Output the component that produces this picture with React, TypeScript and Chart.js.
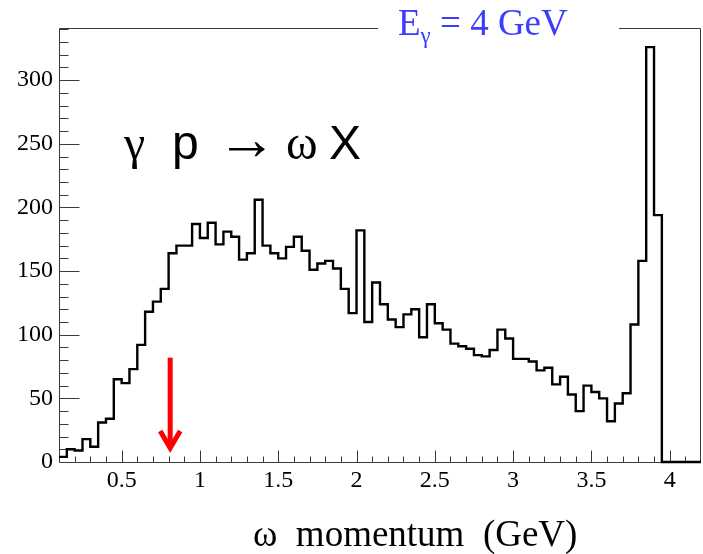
import React, { useEffect, useRef } from "react";
import { Chart, registerables } from "chart.js";

Chart.register(...registerables);

// Binning of the omega momentum histogram (GeV)
const BIN_START = 0.1;
const BIN_WIDTH = 0.05;
const X_MIN = 0.1;
const X_MAX = 4.2;
const Y_MAX = 341;

// Entries per 50 MeV bin, starting at 0.10 GeV
const counts = [
  4, 10, 9, 18, 12, 31,
  34, 65, 62, 73, 92, 118,
  126, 136, 164, 170, 170, 187,
  176, 188, 171, 181, 177, 159,
  164, 206, 170, 164, 160, 169,
  177, 166, 151, 156, 158, 152,
  136, 117, 182, 110, 141, 124,
  112, 106, 116, 120, 98, 124,
  109, 104, 93, 91, 89, 84,
  83, 88, 104, 97, 81, 81,
  79, 72, 74, 61, 67, 53,
  40, 60, 55, 50, 32, 46,
  54, 108, 158, 326, 194, 0,
  0, 0, 0, 0,
];

// Red marker arrow: momentum position and vertical extent (entries)
const arrowAt = 0.81;
const arrowFrom = 82;
const arrowTo = 11;

const SERIF = '"Liberation Serif", "Times New Roman", serif';
const SANS = '"Liberation Sans", Arial, sans-serif';

const framePlugin = {
  id: "rootFrame",
  beforeDatasetsDraw(chart: any) {
    const { ctx, chartArea: a, scales } = chart;
    const x = scales.x;
    const y = scales.y;
    const L = Math.round(a.left) + 0.5;
    const R = Math.round(a.right) - 0.5;
    const T = Math.round(a.top) + 0.5;
    const B = Math.round(a.bottom) + 0.5;
    ctx.save();
    ctx.strokeStyle = "#3a3a3a";
    ctx.lineWidth = 1;
    ctx.beginPath();
    ctx.moveTo(L, T);
    ctx.lineTo(R, T);
    ctx.lineTo(R, B);
    ctx.lineTo(L, B);
    ctx.closePath();
    // inner ticks on the x axis: major every 0.5, minor every 0.1
    for (let k = 1; k <= 42; k++) {
      const v = k / 10;
      if (v <= X_MIN + 1e-9 || v >= X_MAX - 1e-9) continue;
      const px = Math.round(x.getPixelForValue(v)) + 0.5;
      const len = k % 5 === 0 ? 12 : 6;
      ctx.moveTo(px, B);
      ctx.lineTo(px, B - len);
    }
    // inner ticks on the y axis: major every 50, minor every 10
    for (let v = 10; v < Y_MAX; v += 10) {
      const py = Math.round(y.getPixelForValue(v)) + 0.5;
      const len = v % 50 === 0 ? 20 : 9;
      ctx.moveTo(L, py);
      ctx.lineTo(L + len, py);
    }
    ctx.stroke();
    ctx.restore();
  },
  afterDraw(chart: any) {
    const { ctx, scales } = chart;
    const x = scales.x;
    const y = scales.y;
    ctx.save();

    // arrow
    const ax = x.getPixelForValue(arrowAt);
    const aTop = y.getPixelForValue(arrowFrom);
    const aTip = y.getPixelForValue(arrowTo);
    ctx.strokeStyle = "#ff0000";
    ctx.lineWidth = 5;
    ctx.lineCap = "butt";
    ctx.lineJoin = "miter";
    ctx.beginPath();
    ctx.moveTo(ax, aTop);
    ctx.lineTo(ax, aTip - 2);
    ctx.stroke();
    ctx.beginPath();
    ctx.moveTo(ax - 10, aTip - 17);
    ctx.lineTo(ax, aTip);
    ctx.lineTo(ax + 10, aTip - 17);
    ctx.stroke();

    // reaction label
    ctx.fillStyle = "#000";
    ctx.textBaseline = "alphabetic";
    ctx.textAlign = "left";
    ctx.font = `48px ${SERIF}`;
    ctx.fillText("γ", 124, 159);
    ctx.font = `48px ${SANS}`;
    ctx.fillText("p", 172, 159);
    ctx.font = `60px ${SERIF}`;
    ctx.fillText("→", 217, 159);
    ctx.font = `48px ${SERIF}`;
    ctx.fillText("ω", 286, 159);
    ctx.font = `48px ${SANS}`;
    ctx.fillText("X", 329, 159);

    // axis title
    ctx.font = `37px ${SERIF}`;
    ctx.fillText("ω  momentum  (GeV)", 253, 546);

    // beam energy title box
    ctx.fillStyle = "#ffffff";
    ctx.fillRect(378, 0, 241, 45);
    ctx.fillStyle = "#3c3cff";
    let tx = 398;
    ctx.font = `37px ${SERIF}`;
    ctx.fillText("E", tx, 35);
    tx += ctx.measureText("E").width;
    ctx.font = `23px ${SERIF}`;
    ctx.fillText("γ", tx, 43);
    tx += ctx.measureText("γ").width;
    ctx.font = `37px ${SERIF}`;
    ctx.fillText(" = 4 GeV", tx, 35);

    ctx.restore();
  },
};

export default function App() {
  const ref = useRef<HTMLCanvasElement>(null);

  useEffect(() => {
    const points = counts.map((c, i) => ({ x: BIN_START + i * BIN_WIDTH, y: c }));
    points.push({ x: BIN_START + counts.length * BIN_WIDTH, y: counts[counts.length - 1] });

    const tickFont = { family: SERIF, size: 24 };

    const chart = new Chart(ref.current as HTMLCanvasElement, {
      type: "line",
      data: {
        datasets: [
          {
            data: points,
            stepped: "before",
            borderColor: "#000000",
            borderWidth: 2.4,
            borderJoinStyle: "miter",
            borderCapStyle: "butt",
            pointRadius: 0,
            fill: false,
            clip: false,
          } as any,
        ],
      },
      options: {
        animation: false,
        responsive: false,
        devicePixelRatio: 1,
        layout: { padding: { left: 0, right: 2, top: 28, bottom: 0 } },
        plugins: {
          legend: { display: false },
          tooltip: { enabled: false },
          title: { display: false },
        },
        events: [],
        scales: {
          x: {
            type: "linear",
            min: X_MIN,
            max: X_MAX,
            grid: { display: false, drawTicks: false },
            border: { display: false },
            ticks: {
              stepSize: 0.5,
              includeBounds: false,
              autoSkip: false,
              maxRotation: 0,
              minRotation: 0,
              padding: 4,
              color: "#000",
              font: tickFont,
              callback: (v: any) => String(v),
            },
            afterFit: (s: any) => {
              s.height = 92;
            },
          },
          y: {
            type: "linear",
            min: 0,
            max: Y_MAX,
            grid: { display: false, drawTicks: false },
            border: { display: false },
            ticks: {
              stepSize: 50,
              includeBounds: false,
              padding: 6,
              color: "#000",
              font: tickFont,
              callback: (v: any) => String(v),
            },
            afterFit: (s: any) => {
              s.width = 59;
            },
          },
        },
      } as any,
      plugins: [framePlugin],
    });

    return () => chart.destroy();
  }, []);

  return (
    <div style={{ position: "absolute", left: 0, top: 0, width: 703, height: 554, background: "#ffffff" }}>
      <canvas ref={ref} width={703} height={554} style={{ display: "block", width: 703, height: 554 }} />
    </div>
  );
}
